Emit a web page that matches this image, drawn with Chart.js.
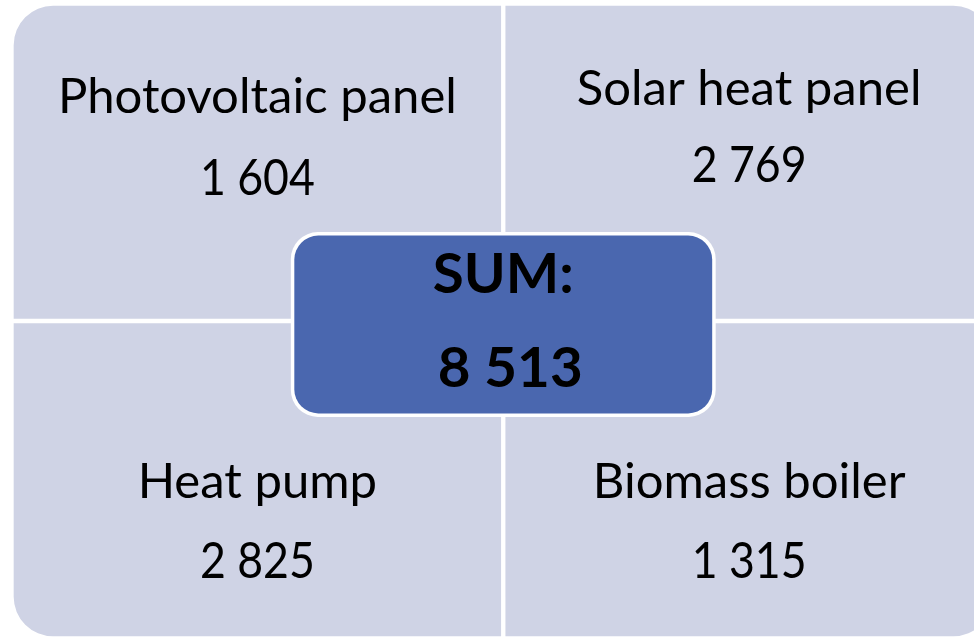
<!DOCTYPE html>
<html>
<head>
<meta charset="utf-8">
<script src="https://cdn.jsdelivr.net/npm/chart.js@4.4.0/dist/chart.umd.min.js"></script>
<style>
  html, body { margin: 0; padding: 0; background: #fff; overflow: hidden; }
  #wrap { width: 974px; height: 637px; overflow: hidden; }
</style>
</head>
<body>
<div id="wrap"><canvas id="matrix" width="1000" height="640"></canvas></div>
<script>
// quadrant data (top-left, top-right, bottom-left, bottom-right)
const categories = ['Photovoltaic panel', 'Solar heat panel', 'Heat pump', 'Biomass boiler'];
const amounts = [1604, 2769, 2825, 1315];
const sumLabel = 'SUM:';
const columns = ['left', 'right'];
const topRow = [[1, 2], [1, 2]];
const bottomRow = [[0, 1], [0, 1]];

const total = amounts.reduce((a, b) => a + b, 0);
const fmt = n => String(n).replace(/\B(?=(\d{3})+(?!\d))/g, ' ');

const cellFill = '#CFD3E5';
const boxFill = '#4A67AF';

// text layout, in axis units
const cellCol = [0, 1, 0, 1];
const labelY = [1.655, 1.680, 0.444, 0.444];
const valueY = [1.397, 1.438, 0.191, 0.191];

function drawText(ctx, str, cx, by, font, k) {
    ctx.save();
    ctx.font = font;
    ctx.translate(cx, by);
    ctx.scale(k, 1);
    ctx.textAlign = 'center';
    ctx.textBaseline = 'alphabetic';
    ctx.fillStyle = '#000';
    ctx.fillText(str, 0, 0);
    ctx.restore();
}

const matrixText = {
    id: 'matrixText',
    afterDatasetsDraw(chart) {
        const ctx = chart.ctx;
        const x = chart.scales.x, y = chart.scales.y;
        const regular = '48px Lato';
        const numFont = '51px Lato';
        const bold = 'bold 56px Lato';

        // condense the font to Calibri-like widths
        ctx.font = regular;
        const kReg = 399 / ctx.measureText(categories[0]).width;
        ctx.font = numFont;
        const kNum = 115 / ctx.measureText(fmt(amounts[0])).width;
        ctx.font = bold;
        const kBold = 141 / ctx.measureText(sumLabel).width;

        categories.forEach((c, i) => {
            const cx = x.getPixelForValue(cellCol[i]);
            drawText(ctx, c, cx, y.getPixelForValue(labelY[i]), regular, kReg);
            drawText(ctx, fmt(amounts[i]), cx, y.getPixelForValue(valueY[i]), numFont, kNum);
        });

        // center summary box
        const x0 = x.getPixelForValue(0.5 - 0.432), x1 = x.getPixelForValue(0.5 + 0.432);
        const y0 = y.getPixelForValue(1.28), y1 = y.getPixelForValue(0.698);
        ctx.save();
        ctx.beginPath();
        ctx.roundRect(x0, y0, x1 - x0, y1 - y0, 27);
        ctx.fillStyle = '#fff';
        ctx.fill();
        ctx.beginPath();
        ctx.roundRect(x0 + 3.5, y0 + 3.5, x1 - x0 - 7, y1 - y0 - 7, 24);
        ctx.fillStyle = boxFill;
        ctx.fill();
        ctx.restore();

        const mid = x.getPixelForValue(0.5);
        drawText(ctx, sumLabel, mid, y.getPixelForValue(1.088), bold, kBold);
        drawText(ctx, fmt(total), mid + 7, y.getPixelForValue(0.792), bold, kBold);
    }
};

const common = {
    backgroundColor: cellFill,
    borderColor: '#fff',
    borderWidth: 2.5,
    borderSkipped: false,
    grouped: false,
    categoryPercentage: 1,
    barPercentage: 1
};

new Chart(document.getElementById('matrix').getContext('2d'), {
    type: 'bar',
    data: {
        labels: columns,
        datasets: [
            Object.assign({
                label: 'top',
                data: topRow,
                borderRadius: c => c.dataIndex === 0 ? { topLeft: 42 } : { topRight: 42 }
            }, common),
            Object.assign({
                label: 'bottom',
                data: bottomRow,
                borderRadius: c => c.dataIndex === 0 ? { bottomLeft: 42 } : { bottomRight: 42 }
            }, common)
        ]
    },
    options: {
        responsive: false,
        animation: false,
        layout: { padding: { left: 11.5, right: 5, top: 3.5, bottom: 1.5 } },
        plugins: { legend: { display: false }, tooltip: { enabled: false } },
        scales: {
            x: { display: false },
            y: { display: false, min: 0, max: 2 }
        }
    },
    plugins: [matrixText]
});
</script>
</body>
</html>
